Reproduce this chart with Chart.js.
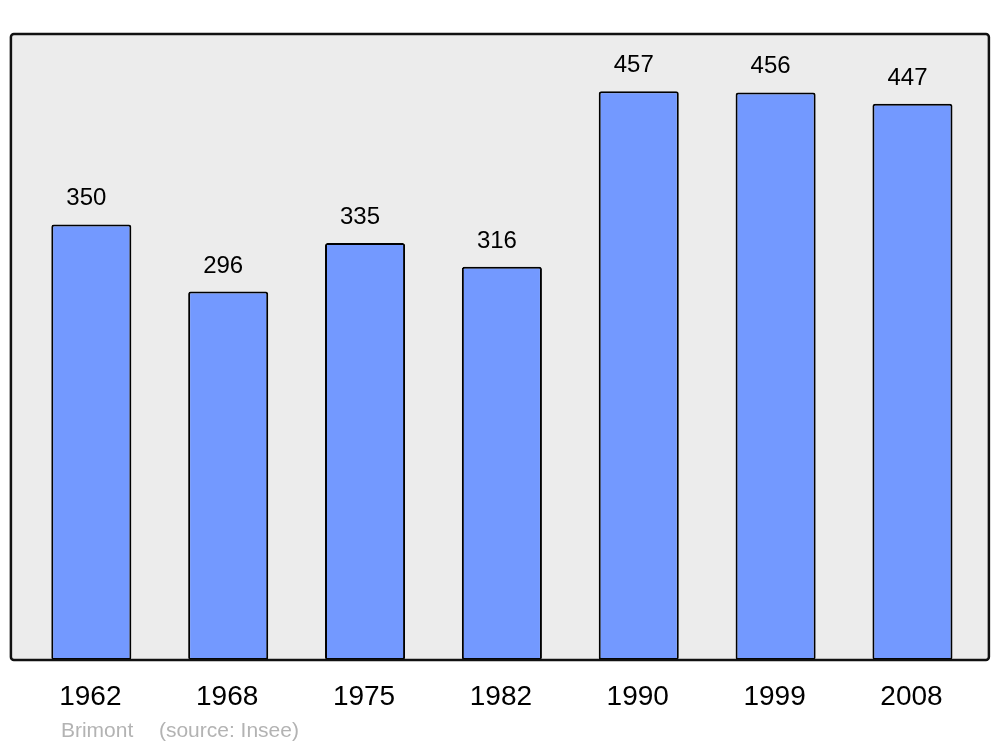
<!DOCTYPE html>
<html><head><meta charset="utf-8">
<script src="https://cdn.jsdelivr.net/npm/chart.js@4"></script>
<style>html,body{margin:0;padding:0;background:#fff;}canvas{display:block;}</style>
</head><body>
<canvas id="c" width="1000" height="747"></canvas>
<script>
const years = ['1962','1968','1975','1982','1990','1999','2008'];
const population = [350, 296, 335, 316, 457, 456, 447];
const townName = 'Brimont';
const sourceText = '(source: Insee)';
const yMax = 503;

const framePlugin = {
  id: 'frame',
  beforeDraw(chart) {
    const {ctx, chartArea: a} = chart;
    const l = a.left - 12, r = a.right + 8, t = a.top, b = a.bottom;
    ctx.save();
    ctx.fillStyle = '#ececec';
    ctx.beginPath();
    ctx.roundRect(l, t, r - l, b - t, 3);
    ctx.fill();
    ctx.restore();
  },
  afterDatasetsDraw(chart) {
    const {ctx, chartArea: a} = chart;
    const l = a.left - 12, r = a.right + 8, t = a.top, b = a.bottom;
    ctx.save();
    ctx.strokeStyle = '#111';
    ctx.lineWidth = 2.5;
    ctx.beginPath();
    ctx.roundRect(l, t, r - l, b - t, 3);
    ctx.stroke();
    // value labels
    const meta = chart.getDatasetMeta(0);
    ctx.fillStyle = '#000';
    ctx.font = '24px "Liberation Sans", Arial, sans-serif';
    ctx.textAlign = 'center';
    ctx.textBaseline = 'alphabetic';
    meta.data.forEach((bar, i) => {
      ctx.fillText(String(population[i]), bar.x - 5, bar.y - 19);
    });
    // year labels
    const xs = chart.scales.x;
    ctx.font = '28px "Liberation Sans", Arial, sans-serif';
    years.forEach((y, i) => {
      ctx.fillText(y, xs.getPixelForValue(i) - 1, b + 45);
    });
    // source
    ctx.fillStyle = '#b3b3b3';
    ctx.font = '21px "Liberation Sans", Arial, sans-serif';
    ctx.textAlign = 'left';
    ctx.fillText(townName, l + 50, b + 77);
    ctx.fillText(sourceText, l + 148, b + 77);
    ctx.restore();
  }
};

new Chart(document.getElementById('c'), {
  type: 'bar',
  data: {
    labels: years,
    datasets: [{
      data: population,
      backgroundColor: '#7399ff',
      borderColor: '#000',
      borderWidth: 2,
      borderRadius: 2.5,
      borderSkipped: false,
      barPercentage: 0.585,
      categoryPercentage: 1
    }]
  },
  options: {
    responsive: false,
    animation: false,
    layout: { padding: { left: 22.9, right: 19.1, top: 34, bottom: 87 } },
    plugins: { legend: { display: false }, tooltip: { enabled: false } },
    scales: {
      x: { display: false, grid: { display: false } },
      y: { display: false, min: 0, max: yMax, grid: { display: false } }
    }
  },
  plugins: [framePlugin]
});
</script>
</body></html>
